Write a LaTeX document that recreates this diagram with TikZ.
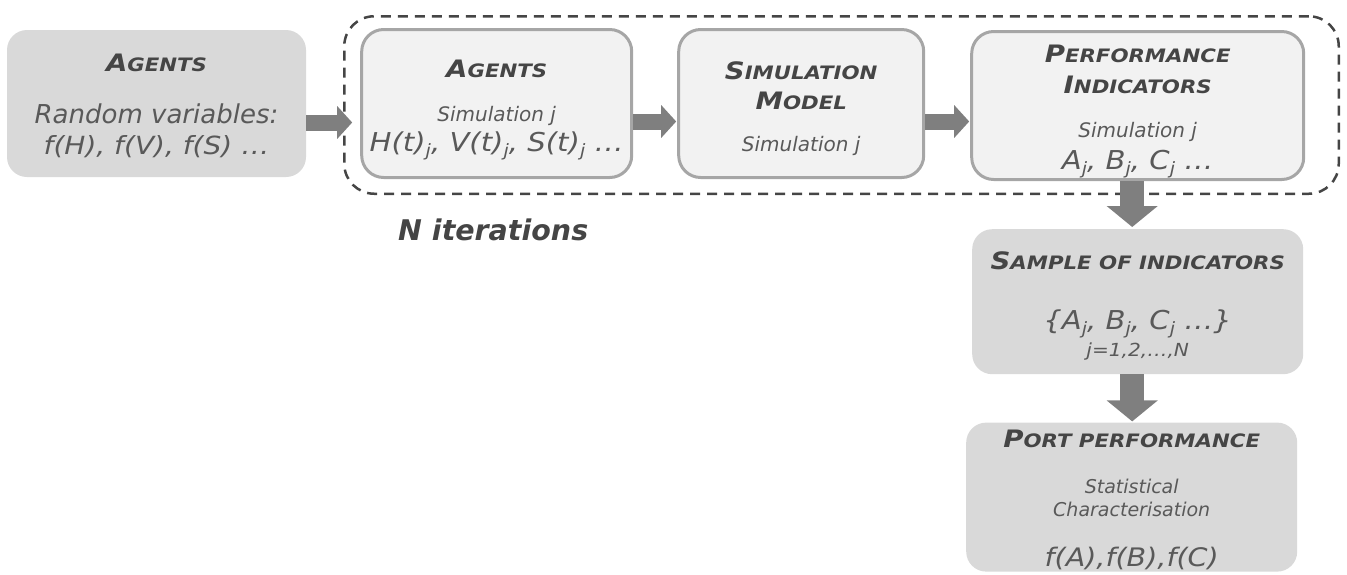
\documentclass[tikz,border=0pt]{standalone}
\usepackage{fontspec}
\setmainfont{DejaVu Sans}
\newfontfamily\capsfont{DejaVu Sans}[FakeStretch=1.15]
\newfontfamily\widefont{DejaVu Sans}[FakeStretch=1.12]
\usetikzlibrary{arrows.meta,positioning}
\definecolor{boxgray}{HTML}{D9D9D9}
\definecolor{innergray}{HTML}{F2F2F2}
\definecolor{bordergray}{HTML}{A6A6A6}
\definecolor{arrowgray}{HTML}{7F7F7F}
\definecolor{textgray}{HTML}{595959}
\definecolor{headgray}{HTML}{454545}
\newcommand{\smc}[2]{{\fontsize{24}{24}\selectfont #1}{\fontsize{18.5}{18.5}\selectfont #2}}
\newcommand{\sbj}{\raisebox{-5pt}{\fontsize{17}{17}\selectfont j}}

\begin{document}
\begin{tikzpicture}[x=1pt,y=-1pt]
	  \tikzstyle{outer}=[rectangle, rounded corners=20pt, fill=boxgray, draw=none]
	  \tikzstyle{inner}=[rectangle, rounded corners=22pt, fill=innergray, draw=bordergray, line width=3pt, minimum height=148pt]
	  \tikzstyle{frame}=[rectangle, rounded corners=30pt, draw=headgray, line width=2.5pt, dash pattern=on 10pt off 7pt]
	  \tikzstyle{hd}=[anchor=base, inner sep=0pt, text=headgray, font=\capsfont\bfseries\itshape]
	  \tikzstyle{big}=[anchor=base, inner sep=0pt, text=textgray, font=\fontsize{26}{26}\selectfont\itshape]
	  \tikzstyle{var}=[anchor=base, inner sep=0pt, text=textgray, font=\widefont\fontsize{26}{26}\selectfont\itshape]
	  \tikzstyle{mid}=[anchor=base, inner sep=0pt, text=textgray, font=\fontsize{20}{20}\selectfont\itshape]
	  \tikzstyle{flow}=[-{Triangle[width=32pt,length=15pt]}, line width=16pt, draw=arrowgray]
	  \tikzstyle{down}=[-{Triangle[width=50pt,length=21pt]}, line width=24pt, draw=arrowgray]

	  \useasboundingbox (0,0) rectangle (1347,574);

	  % loop frame
	  \node[frame, minimum width=994.5pt, minimum height=177.5pt] (iter) at (841.5,105) {};
	  \node[anchor=base west, inner sep=0pt, text=headgray, font=\fontsize{28.5}{28.5}\selectfont\bfseries\itshape]
	    (nIter) at ([xshift=55pt,yshift=-45pt]iter.south west) {N iterations};

	  % boxes
	  \node[outer, minimum width=299pt, minimum height=147pt] (agentsRnd) at (156.5,103.5) {};
	  \node[inner, minimum width=270pt] (agentsSim) [right=54pt of agentsRnd] {};
	  \node[inner, minimum width=245pt] (simModel) [right=44pt of agentsSim] {};
	  \node[inner, minimum width=332pt] (perfInd) [right=45pt of simModel, yshift=-2pt] {};
	  \node[outer, minimum width=331pt, minimum height=145pt] (sample) [below=48pt of perfInd] {};
	  \node[outer, minimum width=331pt, minimum height=149pt] (port) [below=48pt of sample, xshift=-6pt] {};

	  % texts
	  \node[hd] (agRndT) at ([yshift=-42pt]agentsRnd.north) {\smc{A}{GENTS}};
	  \node[big] (agRndV) at ([yshift=-94pt]agentsRnd.north) {Random variables:};
	  \node[var, font=\widefont\fontsize{25}{25}\selectfont\itshape] (agRndF) at ([yshift=-125pt]agentsRnd.north) {f(H), f(V), f(S) …};

	  \node[hd] (agSimT) at ([yshift=-49pt]agentsSim.north) {\smc{A}{GENTS}};
	  \node[mid] (agSimJ) at ([yshift=-93pt]agentsSim.north) {Simulation j};
	  \node[var] (agSimF) at ([yshift=-123pt]agentsSim.north) {H(t)\sbj, V(t)\sbj, S(t)\sbj\ …};

	  \node[hd] (simT1) at ([yshift=-51pt]simModel.north) {\smc{S}{IMULATION}};
	  \node[hd] (simT2) at ([yshift=-81pt]simModel.north) {\smc{M}{ODEL}};
	  \node[mid] (simJ) at ([yshift=-123pt]simModel.north) {Simulation j};

	  \node[hd] (perfT1) at ([yshift=-32pt]perfInd.north) {\smc{P}{ERFORMANCE}};
	  \node[hd] (perfT2) at ([yshift=-63pt]perfInd.north) {\smc{I}{NDICATORS}};
	  \node[mid] (perfJ) at ([yshift=-107pt]perfInd.north) {Simulation j};
	  \node[var] (perfF) at ([yshift=-139pt]perfInd.north) {A\sbj, B\sbj, C\sbj\ …};

	  \node[hd] (sampleT) at ([yshift=-40pt]sample.north) {\smc{S}{AMPLE OF INDICATORS}};
	  \node[var] (sampleF) at ([yshift=-100pt]sample.north) {\{A\sbj, B\sbj, C\sbj\ …\}};
	  \node[anchor=base, inner sep=0pt, text=textgray, font=\widefont\fontsize{18}{18}\selectfont\itshape]
	    (sampleN) at ([yshift=-127pt]sample.north) {j=1,2,…,N};

	  \node[hd] (portT) at ([yshift=-25pt]port.north) {\smc{P}{ORT PERFORMANCE}};
	  \node[anchor=base, inner sep=0pt, text=textgray, font=\fontsize{19}{19}\selectfont\itshape]
	    (portS1) at ([yshift=-71pt]port.north) {Statistical};
	  \node[anchor=base, inner sep=0pt, text=textgray, font=\fontsize{19}{19}\selectfont\itshape]
	    (portS2) at ([yshift=-94pt]port.north) {Characterisation};
	  \node[var, font=\widefont\fontsize{25.5}{25.5}\selectfont\itshape] (portF) at ([yshift=-144pt]port.north) {f(A),f(B),f(C)};

	  % arrows
	  \coordinate (a1) at ([yshift=-19pt]agentsRnd.east);
	  \coordinate (a2) at ([yshift=-18pt]agentsSim.east);
	  \coordinate (a3) at ([yshift=-18pt]simModel.east);
	  \coordinate (d1) at ([xshift=-5.5pt]perfInd.south);
	  \coordinate (d2) at ([xshift=-5.5pt]sample.south);

	  \draw[flow, shorten >=8pt] (a1) -- (a1 -| agentsSim.west);
	  \draw[flow, shorten >=1pt] (a2) -- (a2 -| simModel.west);
	  \draw[flow, shorten >=1pt] (a3) -- (a3 -| perfInd.west);
	  \draw[down, shorten >=2pt] (d1) -- (d1 |- sample.north);
	  \draw[down, shorten >=1pt] (d2) -- (d2 |- port.north);
\end{tikzpicture}
\end{document}
